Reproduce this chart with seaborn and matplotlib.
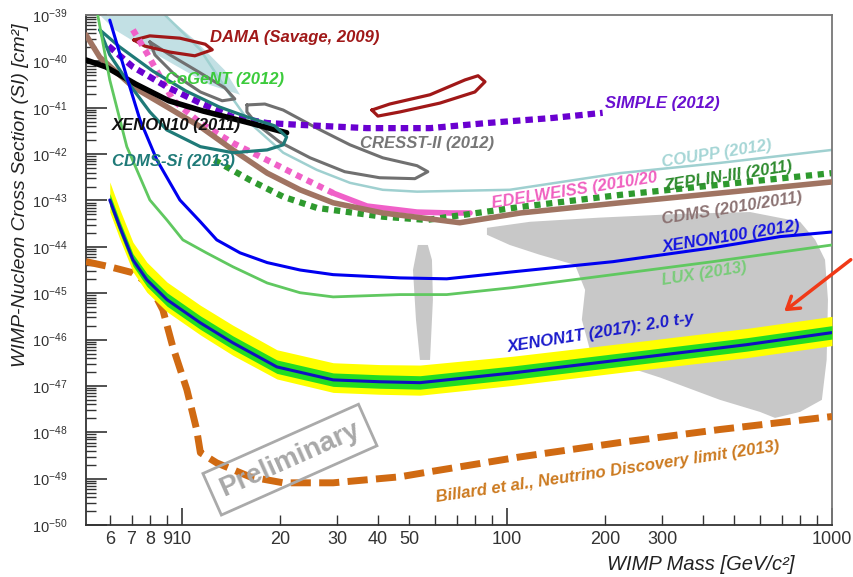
import numpy as np
import matplotlib
matplotlib.use("Agg")
import matplotlib.pyplot as plt
from matplotlib.ticker import FixedLocator, FixedFormatter, LogFormatterSciNotation, NullFormatter
import seaborn as sns

# ── data : WIMP mass [GeV/c^2]  /  log10(cross section [cm^2]) ──
x1t_mass   = [6.0, 6.44, 7.07, 7.8, 9.0, 11.4, 14.35, 19.6, 29.2, 40.6, 54, 104, 270, 547, 1000]
x1t_med    = [-42.99, -43.57, -44.28, -44.71, -45.14, -45.64, -46.07, -46.59, -46.87, -46.91, -46.93, -46.72,
              -46.37, -46.11, -45.85]
x1t_yel_hi = [-42.60, -43.19, -43.90, -44.33, -44.76, -45.26, -45.69, -46.22, -46.50, -46.54, -46.55, -46.36,
              -46.02, -45.76, -45.50]
x1t_yel_lo = [-43.25, -43.83, -44.54, -44.98, -45.40, -45.90, -46.34, -46.85, -47.14, -47.18, -47.20, -46.99,
              -46.64, -46.39, -46.13]
x1t_grn_hi = [-42.85, -43.44, -44.15, -44.57, -44.99, -45.49, -45.92, -46.44, -46.72, -46.76, -46.78, -46.57,
              -46.22, -45.96, -45.70]
x1t_grn_lo = [-43.12, -43.70, -44.41, -44.85, -45.28, -45.78, -46.21, -46.73, -47.01, -47.05, -47.07, -46.86,
              -46.51, -46.25, -45.99]

nu_mass = [5.07, 6.0, 7.07, 7.97, 8.74, 9.38, 10.36, 11.1, 11.4, 12.8, 16.2, 20.5, 29.2, 46.9, 58.0, 110, 223, 452, 1000]
nu_log  = [-44.32, -44.43, -44.56, -44.82, -45.36, -46.16, -47.08, -47.94, -48.44, -48.66, -48.96, -49.09, -49.09,
           -48.96, -48.85, -48.53, -48.22, -47.94, -47.66]

x100_mass = [6.0, 6.77, 7.43, 8.38, 9.86, 11.4, 12.8, 15.1, 18.3, 23.1, 29.2, 46.9, 65.3, 104, 212, 430, 692, 1000]
x100_log  = [-39.11, -40.34, -41.26, -42.13, -42.99, -43.46, -43.85, -44.13, -44.34, -44.50, -44.60, -44.67, -44.69,
             -44.54, -44.32, -44.02, -43.78, -43.68]

lux_mass = [5.51, 6.0, 6.77, 7.97, 8.99, 10.07, 11.9, 14.35, 18.3, 23.1, 29.2, 46.9, 65.3, 104, 212, 430, 1000]
lux_log  = [-39.0, -40.40, -41.84, -42.99, -43.42, -43.85, -44.13, -44.43, -44.78, -44.99, -45.08, -45.03, -45.03,
            -44.88, -44.60, -44.32, -43.96]

cdms_mass = [5.07, 5.59, 7.07, 8.99, 11.4, 14.35, 18.3, 23.1, 29.2, 41.5, 54.0, 71.6, 110, 223, 452, 1000]
cdms_log  = [-39.43, -39.91, -40.55, -40.98, -41.41, -41.91, -42.41, -42.77, -43.05, -43.27, -43.37, -43.48,
             -43.27, -43.05, -42.84, -42.60]

zep_mass = [12.6, 16.2, 20.5, 26.0, 41.5, 56.7, 110, 223, 452, 1000]
zep_log  = [-42.13, -42.56, -42.92, -43.16, -43.35, -43.42, -43.14, -42.88, -42.66, -42.41]

edw_mass = [7.07, 7.80, 9.38, 11.4, 14.35, 18.3, 23.1, 29.2, 37.1, 52.9, 66.8, 77.0]
edw_log  = [-39.32, -39.82, -40.83, -41.33, -41.76, -42.13, -42.49, -42.84, -43.12, -43.25, -43.27, -43.27]

coupp_mass = [8.87, 11.4, 14.05, 16.2, 20.5, 26.0, 32.9, 41.5, 52.9, 102, 223, 452, 1000]
coupp_log  = [-39.0, -39.75, -40.72, -41.33, -41.97, -42.34, -42.62, -42.77, -42.81, -42.77, -42.41, -42.19, -41.91]

simple_mass = [5.95, 7.07, 8.99, 11.4, 14.35, 18.3, 23.1, 37.1, 58.0, 86.8, 138.5, 197]
simple_log  = [-39.67, -40.12, -40.55, -40.90, -41.20, -41.33, -41.37, -41.44, -41.44, -41.33, -41.22, -41.11]

x10_mass = [5.07, 5.84, 7.21, 9.12, 11.6, 16.2, 21.0]
x10_log  = [-39.97, -40.12, -40.49, -40.85, -41.07, -41.33, -41.54]

cdmssi_mass = [5.59, 6.44, 8.14, 10.3, 13.0, 16.2, 19.3, 21.0, 20.5, 18.3, 14.35, 11.4, 8.99, 7.97, 6.92, 6.0, 5.59]
cdmssi_log  = [-39.32, -39.69, -40.21, -40.64, -40.98, -41.22, -41.39, -41.63, -41.80, -41.91, -41.97, -41.84,
               -41.48, -41.09, -40.51, -39.86, -39.32]

cogent_mass = [7.97, 9.19, 11.4, 13.55, 14.55, 13.3, 11.4, 9.51, 8.26, 7.97]
cogent_log  = [-39.58, -39.86, -40.25, -40.57, -40.81, -40.85, -40.66, -40.29, -39.86, -39.58]

cresst_mass = [15.85, 18.0, 20.5, 26.0, 32.9, 41.5, 52.9, 57.1, 52.1, 40.6, 31.7, 24.8, 20.0, 17.1, 15.85, 15.85]
cresst_log  = [-40.94, -40.92, -41.05, -41.44, -41.80, -42.08, -42.25, -42.38, -42.53, -42.51, -42.38, -42.08,
               -41.74, -41.37, -41.09, -40.94]

dama1_mass = [7.11, 7.97, 9.86, 11.8, 12.4, 10.96, 9.19, 7.69, 7.11]
dama1_log  = [-39.54, -39.45, -39.50, -39.63, -39.75, -39.88, -39.80, -39.67, -39.54]
dama2_mass = [38.4, 43.6, 58.0, 74.3, 81.5, 85.6, 79.7, 62.2, 46.9, 40.1, 38.4]
dama2_log  = [-41.05, -40.92, -40.72, -40.40, -40.31, -40.44, -40.66, -40.90, -41.09, -41.18, -41.05]

shade_mass = [5.59, 8.87, 10.96, 13.55, 15.1, 12.2, 9.51, 7.43, 6.22]
shade_log  = [-39.0, -39.0, -39.54, -40.19, -40.72, -40.51, -40.08, -39.65, -39.32]

roi_mass = [86.8, 117.7, 193, 340, 560, 798, 888, 952, 972, 963, 931, 798, 668, 600, 452, 296, 223, 180, 170, 174,
            162, 126, 102, 86.8]
roi_log  = [-43.59, -43.46, -43.37, -43.29, -43.25, -43.46, -43.85, -44.28, -45.14, -46.44, -47.30, -47.56, -47.69,
            -47.56, -47.30, -46.82, -46.54, -46.22, -45.57, -44.93, -44.39, -44.17, -43.96, -43.74]
strip_mass = [53.2, 57.1, 58.8, 59.2, 58.0, 54.0, 52.5, 51.4]
strip_log  = [-43.96, -43.96, -44.28, -45.14, -46.44, -46.44, -45.57, -44.50]

x_major = [10, 100, 1000]
x_major_lbl = ["10", "100", "1000"]
x_minor = [6, 7, 8, 9, 20, 30, 40, 50, 60, 70, 80, 90, 200, 300, 400, 500, 600, 700, 800, 900]
x_minor_lbl = ["6", "7", "8", "9", "20", "30", "40", "50", "", "", "", "", "200", "300", "", "", "", "", "", ""]
y_decades = list(range(-50, -38))

# (text, mass, log10 sigma, colour, rotation)
labels = [
    ("DAMA (Savage, 2009)", 12.2, -39.58, "#A01818", 0),
    ("CoGeNT (2012)", 8.87, -40.49, "#3CCB3C", 0),
    ("XENON10 (2011)", 6.09, -41.48, "#111111", 0),
    ("CDMS-Si (2013)", 6.09, -42.25, "#1F7A78", 0),
    ("CRESST-II (2012)", 35.3, -41.87, "#777777", 0),
    ("SIMPLE (2012)", 200, -41.0, "#6A10D0", 0),
    ("COUPP (2012)", 302, -42.28, "#A6D6D6", 9),
    ("EDELWEISS (2010/20", 90.6, -43.16, "#F060C0", 9),
    ("ZEPLIN-III (2011)", 306, -42.79, "#2E8B2E", 9),
    ("CDMS (2010/2011)", 302, -43.50, "#8C7373", 9),
    ("XENON100 (2012)", 302, -44.12, "#1515E0", 9),
    ("LUX (2013)", 302, -44.82, "#7ACC7A", 9),
    ("XENON1T (2017): 2.0 t-y", 100.7, -46.26, "#1A1ACC", 9),
    ("Billard et al., Neutrino Discovery limit (2013)", 60.9, -49.50, "#CC7A20", 8.5),
]

sns.set_theme(style="ticks")
plt.rcParams["font.family"] = ["Liberation Sans", "DejaVu Sans"]
plt.rcParams["mathtext.fontset"] = "custom"
plt.rcParams["mathtext.rm"] = "Liberation Sans"
plt.rcParams["mathtext.default"] = "regular"

fig = plt.figure(figsize=(8.54, 5.77), dpi=100)
ax = fig.add_axes([0.1007, 0.0901, 0.8735, 0.8839])
ax.set_xscale("log")
ax.set_yscale("log")


def p10(v):
    return np.power(10.0, np.asarray(v, dtype=float))


def curve(m, lg, **kw):
    sns.lineplot(x=m, y=p10(lg), sort=False, estimator=None, ax=ax, **kw)


# shaded regions
ax.fill(shade_mass, p10(shade_log), color="#C2E0E4", lw=0, zorder=1)
ax.fill(roi_mass, p10(roi_log), color="#C8C8C8", lw=0, zorder=1)
ax.fill(strip_mass, p10(strip_log), color="#C8C8C8", lw=0, zorder=1)

# older limits / contours
curve(coupp_mass, coupp_log, color="#9FD0D0", lw=1.8, zorder=2)
curve(cogent_mass, cogent_log, color="#707070", lw=2.2, zorder=2)
curve(cresst_mass, cresst_log, color="#707070", lw=2.2, zorder=2)
curve(dama1_mass, dama1_log, color="#A01818", lw=2.3, zorder=2)
curve(dama2_mass, dama2_log, color="#A01818", lw=2.3, zorder=2)
curve(edw_mass[:8], edw_log[:8], color="#F060C8", lw=4.5, linestyle=(0, (1.0, 0.9)), zorder=2)
curve(edw_mass[7:], edw_log[7:], color="#F060C8", lw=4.0, zorder=2)
curve(zep_mass, zep_log, color="#2E9A2E", lw=4.5, linestyle=(0, (1.0, 0.9)), zorder=2)
curve(cdms_mass, cdms_log, color="#A07462", lw=4.0, zorder=3)
curve(simple_mass, simple_log, color="#6A00D0", lw=4.5, linestyle=(0, (1.2, 0.8)), zorder=3)
curve(x10_mass, x10_log, color="black", lw=4.0, zorder=3)
curve(cdmssi_mass, cdmssi_log, color="#1F7A78", lw=2.3, zorder=3)
curve(x100_mass, x100_log, color="#0000F0", lw=2.2, zorder=3)
curve(lux_mass, lux_log, color="#60C860", lw=2.0, zorder=3)
curve(nu_mass, nu_log, color="#D06A12", lw=5, linestyle=(0, (2.9, 1.2)), zorder=3)

# XENON1T sensitivity band
ax.fill_between(x1t_mass, p10(x1t_yel_lo), p10(x1t_yel_hi), color="#FFFF00", lw=0, zorder=4)
ax.fill_between(x1t_mass, p10(x1t_grn_lo), p10(x1t_grn_hi), color="#22DD22", lw=0, zorder=4)
curve(x1t_mass, x1t_med, color="#1010C0", lw=2.2, zorder=5)

for txt, m, lg, col, rot in labels:
    ax.text(m, 10 ** lg, txt, color=col, fontsize=12, fontweight="bold", fontstyle="italic",
            rotation=rot, rotation_mode="anchor", ha="left", va="baseline", zorder=6)

ax.text(21.5, 10 ** -48.59, "Preliminary", color="#A8A8A8", fontsize=20, fontweight="bold",
        rotation=24, rotation_mode="anchor", ha="center", va="center", zorder=6,
        bbox=dict(boxstyle="square,pad=0.35", fc="none", ec="#AAAAAA", lw=2))

ax.set_xlim(5.07, 1000)
ax.set_ylim(1e-50, 1e-39)

ax.xaxis.set_major_locator(FixedLocator(x_major))
ax.xaxis.set_major_formatter(FixedFormatter(x_major_lbl))
ax.xaxis.set_minor_locator(FixedLocator(x_minor))
ax.xaxis.set_minor_formatter(FixedFormatter(x_minor_lbl))
ax.yaxis.set_major_locator(FixedLocator([10.0 ** d for d in y_decades]))
ax.yaxis.set_major_formatter(LogFormatterSciNotation())
ax.yaxis.set_minor_locator(FixedLocator([s * 10.0 ** d for d in y_decades[:-1] for s in range(2, 10)]))
ax.yaxis.set_minor_formatter(NullFormatter())

ax.tick_params(axis="both", which="both", direction="in", colors="#333333", top=False, right=False)
ax.tick_params(axis="y", which="major", length=15, width=1.2, labelsize=10.5, pad=13.5)
ax.tick_params(axis="y", which="minor", length=7, width=1.0)
ax.tick_params(axis="x", which="major", length=12, width=1.2, labelsize=13, pad=4)
ax.tick_params(axis="x", which="minor", length=7, width=1.0, labelsize=13, pad=4)

for side in ["left", "bottom"]:
    ax.spines[side].set_color("#333333")
    ax.spines[side].set_linewidth(1.3)
for side in ["top", "right"]:
    ax.spines[side].set_color("#777777")
    ax.spines[side].set_linewidth(1.3)

ax.set_xlabel("WIMP Mass [GeV/c²]", fontsize=14.5, fontstyle="italic", color="#222222",
              ha="right", va="center")
ax.xaxis.set_label_coords(0.95, -0.078)
ax.set_ylabel("WIMP-Nucleon Cross Section (SI) [cm²]", fontsize=14, fontstyle="italic",
              color="#222222", ha="right")
ax.yaxis.set_label_coords(-0.076, 0.984)

ax.annotate("", xy=(782, 264), xytext=(853, 319), xycoords="figure pixels", textcoords="figure pixels",
            arrowprops=dict(arrowstyle="->,head_length=0.7,head_width=0.45", color="#F03A18", lw=2.5),
            annotation_clip=False)

fig.savefig("out.png", dpi=100)
